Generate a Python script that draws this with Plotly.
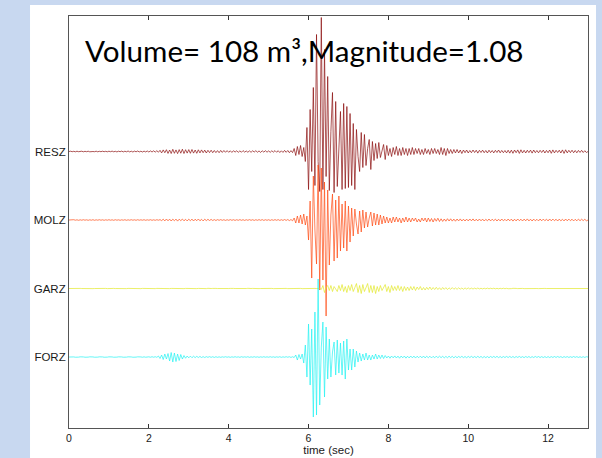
import numpy as np
import plotly.graph_objects as go

# ---------------- data ----------------
station_names = ["RESZ", "MOLZ", "GARZ", "FORZ"]
station_offsets = [4, 3, 2, 1]
sample_interval = 0.04  # seconds
x_ticks = [0, 2, 4, 6, 8, 10, 12]
title_text = "Volume= 108 m\u00b3,Magnitude=1.08"

# amplitudes (display pixels, up positive), 25 samples per second, 0..13 s
resz = [
    0,0.3,-0.2,0.2,-0.3, 0.3,-0.2,0,0.3,-0.3, 0.2,-0.2,0.3,-0.3,0.2, 0,-0.2,0.3,-0.3,0.2, -0.2,0.3,-0.2,0.2,-0.3,
    0.3,-0.2,0.4,-0.3,0.2, -0.4,0.3,-0.2,0.4,-0.4, 0.3,-0.3,0.5,-0.4,0.3, -0.5,0.4,-0.3,0.5,-0.4, 0.3,-0.5,0.4,-0.4,0.5,
    -0.5,0.6,-0.5,0.7,-0.6, 0.8,-0.7,1.2,-1.4,1.6, -1.2,1.8,-1.9,1.5,-2, 2.2,-1.8,1.6,-2.1,1.9, -1.7,2.3,-2,1.8,-1.6,
    1.9,-1.8,2,-1.6,1.5, -1.8,1.7,-1.4,1.6,-1.2, 1.4,-1.5,1.2,-1.1,1.3, -1.2,1,-1.1,0.9,-1.2, 1.1,-0.9,1,-0.8,0.9,
    -0.8,0.7,-0.9,0.8,-0.6, 0.7,-0.8,0.6,-0.7,0.9, -0.6,0.5,-0.7,0.6,-0.8, 0.7,-0.5,0.8,-0.7,0.6, -0.9,0.7,-0.6,0.8,-0.7,
    0.6,-0.8,0.7,-0.6,0.9, -0.7,0.8,-1,0.7,-0.9, 1.1,-0.8,1,-1.2,0.9, -1.1,3,-4,5,-3, 6,-5,4,-10,24,
    -38,42,-20,64,-34, 117,-10,-40,134,-38, 102,-25,75,-39,20, 59,-41,50,-35,10, 40,-38,48,-37,45,
    -36,38,-34,28,-38, 22,-5,-20,19,-16, 17,-14,3,12,-18, 10,-9,8,-7,9, -6,2,7,-8,6,
    -4,3,-5,4,-3, 5,-4,3,-4,4, -3,3,-4,3,-3, 4,-3,3,-2,3, -3,2,-3,3,-2,
    2,-3,3,-2,3, -2,2,-3,4,-3, 3,-4,3,-2,2, -2,2,-1.5,2,-1.5, 1.5,-2,1.5,-1.2,1.5,
    -1.5,1,-1.2,1.5,-1, 1.3,-1.6,1.2,-1,1.4, -1.2,1,-1.5,1.3,-1.1, 1,-1.4,1.2,-1,1.5, -1.3,1.1,-1.2,1,-1.4,
    1.3,-1.6,1.4,-1.8,1.5, -1.2,1.6,-1.9,1.7,-1.4, 1.2,-1.5,1.3,-1.1,1.4, -1.6,1.5,-1.2,1,-1.3, 1.2,-1,1.4,-1.5,1.1,
    -1.2,1.5,-1.8,1.6,-1.4, 1.2,-1,1.3,-1.5,1.6, -1.9,1.7,-1.4,1.2,-1.1, 1.3,-1.2,1,-1.3,1.1, -0.9,1.2,-1,0.8,-1,
    0,
]

molz = [
    0,0.2,-0.2,0.3,-0.2, 0.2,-0.3,0.2,-0.2,0.3, -0.2,0.2,-0.3,0.2,-0.2, 0.3,-0.3,0.2,-0.2,0.3, -0.2,0.2,-0.3,0.2,-0.2,
    0.3,-0.2,0.2,-0.3,0.3, -0.2,0.2,-0.3,0.2,-0.2, 0.3,-0.3,0.2,-0.2,0.3, -0.2,0.2,-0.3,0.3,-0.2, 0.2,-0.2,0.3,-0.3,0.2,
    -0.2,0.3,-0.3,0.2,-0.3, 0.3,-0.2,0.4,-0.6,0.8, -0.9,1,-0.8,0.9,-1, 0.8,-0.7,0.9,-1.1,0.8, -0.6,0.9,-0.8,0.7,-0.9,
    0.8,-0.7,0.9,-1,0.8, -0.7,1,-0.8,0.7,-0.9, 0.8,-0.6,0.7,-0.5,0.6, -0.5,0.4,-0.5,0.4,-0.3, 0.4,-0.3,0.3,-0.4,0.3,
    -0.3,0.4,-0.3,0.3,-0.4, 0.3,-0.3,0.4,-0.3,0.3, -0.4,0.3,-0.3,0.4,-0.3, 0.3,-0.4,0.3,-0.3,0.4, -0.3,0.4,-0.4,0.3,-0.3,
    0.3,-0.4,0.3,-0.3,0.4, -0.3,0.4,-0.4,0.3,-0.4, 0.5,-0.4,0.5,-0.6,0.5, -0.8,2,-3,4,-3, 5,-4,6,-5,4,
    -20,19,-58,44,-10, -44,55,-70,52,-60, 38,-96,30,-45,5, 26,-41,20,-38,24, -31,16,-28,19,-31,
    14,-22,12,-16,11, -4,-14,9,-12,10, -8,8,-7,2,8, -6,7,-5,6,-5, 5,-4,4,-3,3,
    -3,2,-3,3,-2, 3,-2,2,-3,2, -2,3,-2,2,-2, 2,-1,2,-2,1, -2,2,-1,2,-2,
    2,-1.5,1.5,-2,1.5, -1.2,1.8,-1.5,1.2,-1.4, 1,-1.2,1.3,-1,1.2, -1.1,0.9,-1.2,1,-0.9, 1.1,-1,0.8,-1,0.9,
    -0.9,1,-0.8,1.1,-1, 0.8,-0.9,1,-0.8,0.9, -1,0.7,-0.8,1,-0.9, 0.8,-0.7,0.9,-1,0.8, -0.9,1,-0.8,0.7,-0.9,
    1,-0.8,0.9,-1.1,0.8, -0.9,1,-0.7,0.8,-1, 0.9,-0.8,1.1,-0.9,0.8, -1,0.9,-0.8,0.7,-0.9, 1,-0.8,0.9,-0.7,0.8,
    -0.9,1,-0.8,0.9,-0.7, 0.8,-1,0.9,-0.8,0.7, -0.9,1,-0.8,0.9,-0.7, 0.8,-0.9,0.7,-0.8,0.9, -0.7,0.8,-0.6,0.7,-0.8,
    0,
]

garz = [
    0,0.1,-0.1,0,0.1, 0,-0.1,0.1,0,-0.1, 0.1,0,-0.1,0,0.1, -0.1,0,0.1,-0.1,0, 0.1,-0.1,0,0.1,-0.1,
    0.1,0,-0.1,0.1,0, -0.1,0.1,0,-0.1,0.1, 0,-0.1,0.1,0,-0.1, 0.1,0,-0.1,0.1,0, -0.1,0.1,0,-0.1,0.1,
    0,-0.1,0.1,0,-0.1, 0.1,0,-0.1,0.1,0, -0.1,0.1,0,-0.1,0.1, 0,-0.1,0.1,0,-0.1, 0.1,0,-0.1,0.1,0,
    -0.1,0.1,0,-0.1,0.2, -0.1,0.1,0,-0.2,0.1, 0,-0.1,0.2,-0.1,0, 0.1,-0.2,0.1,0,-0.1, 0.2,-0.1,0,0.1,-0.1,
    0,0.1,-0.2,0.1,0, -0.1,0.2,-0.1,0,0.1, -0.1,0,0.2,-0.1,0, 0.1,-0.1,0,0.1,-0.1, 0,0.1,-0.1,0,0.1,
    -0.1,0,0.1,-0.1,0, 0.1,-0.1,0,0.1,-0.1, 0,0.1,-0.1,0,0.1, -0.1,0,0.1,-0.1,0, 0.1,-0.1,0,0.1,-0.1,
    0,0.1,-0.1,0,0.1, 0,-0.2,0.2,-1,3, -4,1,3,-2,3, -3,2,-1,-3,3, -2,4,-3,2,-4,
    3,-2,4,-3,1, 5,-4,3,-5,4, -3,2,5,-4,3, -4,3,-5,2,-3, 3,-2,1,4,-3,
    2,-4,3,-2,2, -2,3,-2,2,-3, 2,-2,1.5,-2,2, -1.5,2,-2,1.5,-1, 2,-1.5,1,-1.5,1.2,
    -1,1.5,-1.2,1,-1, 1.2,-1,0.8,-1.2,1, -0.8,0.9,-1,0.7,-0.8, 0.9,-0.7,0.6,-0.8,0.7, -0.6,0.5,-0.7,0.6,-0.5,
    0.6,-0.5,0.4,-0.5,0.4, -0.4,0.5,-0.4,0.3,-0.4, 0.3,-0.3,0.4,-0.3,0.3, -0.2,0.3,-0.3,0.2,-0.3, 0.2,-0.2,0.3,-0.2,0.2,
    -0.2,0.2,-0.1,0.2,-0.2, 0.1,-0.1,0.2,-0.1,0.1, -0.1,0,0.1,-0.1,0.1, 0,-0.1,0.1,0,-0.1, 0.1,0,-0.1,0.1,0,
    0,-0.1,0.1,0,-0.1, 0.1,0,-0.1,0.1,0, -0.1,0.1,0,-0.1,0.1, 0,-0.1,0.1,0,-0.1, 0.1,0,-0.1,0.1,0,
    0,
]

forz = [
    0,0.2,-0.2,0.1,-0.2, 0.2,-0.1,0.2,-0.2,0.1, -0.2,0.2,-0.1,0.2,-0.2, 0.1,-0.2,0.2,-0.1,0.2, -0.2,0.1,-0.2,0.2,-0.1,
    0.2,-0.2,0.1,-0.2,0.2, -0.1,0.2,-0.2,0.1,-0.2, 0.2,-0.1,0.2,-0.2,0.1, -0.2,0.2,-0.1,0.2,-0.2, 0.1,-0.2,0.2,-0.2,0.1,
    0.2,-0.2,0.3,-0.2,0.3, -0.3,1,-1.5,2,-2.5, 3,-2,3.5,-4,4.5, -5,4,-4.5,3,-3.5, 2.5,-2,1.5,-1.2,1,
    -0.8,0.9,-0.7,0.8,-0.6, 0.7,-0.5,0.6,-0.5,0.4, -0.5,0.4,-0.3,0.4,-0.3, 0.3,-0.4,0.3,-0.3,0.2, -0.3,0.2,-0.2,0.3,-0.2,
    0.2,-0.3,0.2,-0.2,0.3, -0.2,0.2,-0.3,0.3,-0.2, 0.2,-0.2,0.3,-0.3,0.2, -0.2,0.3,-0.2,0.2,-0.3, 0.2,-0.2,0.3,-0.2,0.2,
    -0.2,0.3,-0.2,0.2,-0.3, 0.2,-0.2,0.3,-0.3,0.2, -0.2,0.3,-0.2,0.3,-0.4, 0.3,-0.5,2,-3,2.5, -2,3,-6,12,-20,
    33,-28,28,-60,45, -58,78,-48,10,35, -40,30,-22,18,-20, 5,15,-18,17,-16, 14,-18,16,-22,18,
    -13,8,-13,8,-10, 6,-5,4,-4,3, -3,4,-3,2,-3, 2,-2,3,-2,2, -1.5,2,-1.5,1.5,-1,
    1,-1.2,1,-0.8,1.1, -1,0.9,-1.2,1,-0.8, 1,-1.1,0.8,-0.9,1, -0.8,0.9,-1,0.8,-0.7, 0.9,-0.8,1,-0.9,0.8,
    -0.7,0.8,-0.9,0.7,-0.8, 0.9,-0.7,0.8,-0.6,0.7, -0.8,0.6,-0.7,0.8,-0.6, 0.7,-0.8,0.6,-0.7,0.6, -0.5,0.7,-0.6,0.5,-0.7,
    0.6,-0.5,0.7,-0.6,0.5, -0.6,0.7,-0.5,0.6,-0.7, 0.5,-0.6,0.5,-0.7,0.6, -0.5,0.6,-0.5,0.7,-0.6, 0.5,-0.6,0.5,-0.5,0.6,
    -0.5,0.6,-0.5,0.5,-0.6, 0.5,-0.4,0.6,-0.5,0.4, -0.6,0.5,-0.4,0.5,-0.6, 0.4,-0.5,0.6,-0.4,0.5, -0.5,0.4,-0.5,0.4,-0.5,
    0.4,-0.5,0.4,-0.4,0.5, -0.4,0.5,-0.3,0.4,-0.5, 0.4,-0.3,0.4,-0.4,0.3, -0.4,0.5,-0.3,0.4,-0.4, 0.3,-0.4,0.3,-0.4,0.3,
    0,
]

traces_data = [resz, molz, garz, forz]
trace_colors = ["#8B0D0D", "#FF4A12", "#E2E82A", "#22F2F2"]

# pixel -> offset units (one unit = trace spacing of ~68.5 px)
PX_PER_UNIT = 68.5

fig = go.Figure()
for name, off, vals, col in zip(station_names, station_offsets, traces_data, trace_colors):
    v = np.array(vals, dtype=float)
    t = np.arange(len(v)) * sample_interval
    fig.add_trace(go.Scatter(
        x=t, y=off + v / PX_PER_UNIT, mode="lines", name=name,
        line=dict(color=col, width=0.7), showlegend=False, hoverinfo="skip",
    ))

base_font = "Liberation Sans, Arial, sans-serif"
xtick_font = dict(family=base_font, size=10.5, color="#1a1a1a")
ytick_font = dict(family=base_font, size=11.5, color="#1a1a1a")
xtitle_font = dict(family=base_font, size=11.5, color="#1a1a1a")

fig.update_layout(
    width=602, height=458,
    margin=dict(l=69, r=14, t=16, b=30),
    paper_bgcolor="#C8D8F0",
    plot_bgcolor="white",
    xaxis=dict(
        range=[0, 13], tickvals=x_ticks, ticktext=[str(v) for v in x_ticks],
        ticks="inside", ticklen=4, tickcolor="#333", mirror="ticks",
        showline=True, linecolor="#555", linewidth=1, showgrid=False, zeroline=False,
        tickfont=xtick_font, automargin=False,
        title=dict(text="time (sec)", font=xtitle_font, standoff=0),
    ),
    yaxis=dict(
        range=[-0.036, 5.978], tickvals=station_offsets, ticktext=station_names,
        ticks="", showline=True, mirror=True, linecolor="#555", linewidth=1,
        showgrid=False, zeroline=False, tickfont=ytick_font, automargin=False,
    ),
    shapes=[dict(
        type="rect", xref="paper", yref="paper",
        x0=-0.0751, x1=1.0154, y0=-0.09, y1=1.0267,
        fillcolor="white", line=dict(width=0), layer="below",
    )],
    annotations=[dict(
        text=title_text, xref="paper", yref="paper", x=0.027, y=0.917,
        xanchor="left", yanchor="middle", showarrow=False,
        font=dict(family="Lato, Carlito, sans-serif", size=29.6, color="black"),
    )],
)

fig.write_html(
    "out.html",
    config={"displayModeBar": False},
    post_script="document.body.style.margin='0';document.body.style.padding='0';",
)
